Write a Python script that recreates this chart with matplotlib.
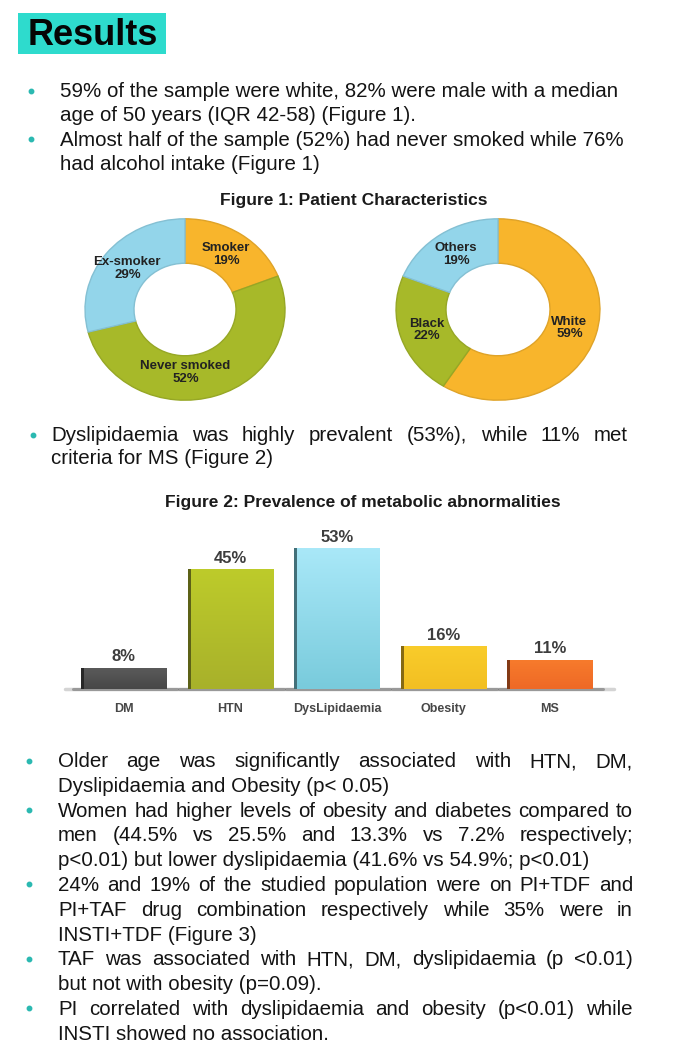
import matplotlib
matplotlib.use('Agg')
import matplotlib.pyplot as plt
import numpy as np
from matplotlib.patches import Rectangle
from matplotlib.lines import Line2D
from matplotlib.colors import to_rgb

# ---------------- data ----------------
smoke_labels = ["Smoker", "Never smoked", "Ex-smoker"]
smoke_values = [19, 52, 29]
race_labels = ["White", "Black", "Others"]
race_values = [59, 22, 19]

bar_categories = ["DM", "HTN", "DysLipidaemia", "Obesity", "MS"]
bar_values = [8, 45, 53, 16, 11]

title_text = "Results"
fig1_title = "Figure 1: Patient Characteristics"
fig2_title = "Figure 2: Prevalence of metabolic abnormalities"

top_bullets = [
    ["59% of the sample were white, 82% were male with a median",
     "age of 50 years (IQR 42-58) (Figure 1)."],
    ["Almost half of the sample (52%) had never smoked while 76%",
     "had alcohol intake (Figure 1)"],
]
mid_bullets = [
    ["Dyslipidaemia was highly prevalent (53%), while 11% met",
     "criteria for MS (Figure 2)"],
]
bottom_bullets = [
    ["Older age was significantly associated with HTN, DM,",
     "Dyslipidaemia and Obesity (p< 0.05)"],
    ["Women had higher levels of obesity and diabetes compared to",
     "men (44.5% vs 25.5% and 13.3% vs 7.2% respectively;",
     "p<0.01) but lower dyslipidaemia (41.6% vs 54.9%; p<0.01)"],
    ["24% and 19% of the studied population were on PI+TDF and",
     "PI+TAF drug combination respectively while 35% were in",
     "INSTI+TDF (Figure 3)"],
    ["TAF was associated with HTN, DM, dyslipidaemia (p <0.01)",
     "but not with obesity (p=0.09)."],
    ["PI correlated with dyslipidaemia and obesity (p<0.01) while",
     "INSTI showed no association."],
]

# ---------------- style ----------------
W, H = 694, 1058
plt.rcParams['font.family'] = ['Liberation Sans', 'DejaVu Sans']
TXT = '#141414'
TEAL = '#2bb9b1'
BOX = '#2edbcd'
ORANGE, GREEN, BLUE = '#f8b52c', '#a7b929', '#93d5ea'
smoke_colors = [ORANGE, GREEN, BLUE]
race_colors = [ORANGE, GREEN, BLUE]
bar_top = ['#5b5b5b', '#bdcb2b', '#a9e8f8', '#f9cc2b', '#f77b2c']
bar_bot = ['#474747', '#a8b12a', '#79cbdc', '#f2bf22', '#ee6926']
BODY = 14.8

fig = plt.figure(figsize=(W / 100, H / 100), dpi=100)
fig.patch.set_facecolor('white')
renderer = fig.canvas.get_renderer()


def fx(x):
    return x / W


def fy(y):
    return 1 - y / H


def darker(c, f=0.85):
    r, g, b = to_rgb(c)
    return (r * f, g * f, b * f)


def text_line(line, x0, x1, ybase, size, justify):
    if not justify:
        fig.text(fx(x0), fy(ybase), line, fontsize=size, va='baseline',
                 ha='left', color=TXT)
        return
    words = line.split(' ')
    while True:
        objs = [fig.text(0, fy(ybase), w, fontsize=size, va='baseline',
                         ha='left', color=TXT) for w in words]
        widths = [o.get_window_extent(renderer).width for o in objs]
        gap = (x1 - x0 - sum(widths)) / max(len(words) - 1, 1)
        if gap >= 3 or size < 10:
            break
        for o in objs:
            o.remove()
        size -= 0.25
    x = x0
    for o, w in zip(objs, widths):
        o.set_x(fx(x))
        x += w + gap


def bullets(paras, bx, x0, x1, y_first, step, size, justify, bullet_dy):
    y = y_first
    for para in paras:
        fig.add_artist(Line2D([fx(bx)], [fy(y - bullet_dy)], marker='o',
                              ms=3.2, color=TEAL, mec=TEAL,
                              transform=fig.transFigure))
        for i, line in enumerate(para):
            last = i == len(para) - 1
            text_line(line, x0, x1, y, size, justify and not last)
            y += step


# ---------------- header ----------------
fig.patches.append(Rectangle((fx(18), fy(54)), (166 - 18) / W, (54 - 13) / H,
                             transform=fig.transFigure, facecolor=BOX,
                             edgecolor='none'))
fig.text(fx(28), fy(45), title_text, fontsize=26, fontweight='bold',
         color='#050505', va='baseline', ha='left')

bullets(top_bullets, 31, 60, 625, 97, 24.4, BODY, False, 6.5)

# ---------------- figure 1: donuts ----------------
fig.text(fx(354), fy(205), fig1_title, fontsize=12.5, fontweight='bold',
         color='#1a1a1a', ha='center', va='baseline')

label_nudge = {"Never smoked": -0.22}


def donut(box, values, labels, colors):
    x0, y0, x1, y1 = box
    ax = fig.add_axes([fx(x0), fy(y1), (x1 - x0) / W, (y1 - y0) / H])
    wedges, _ = ax.pie(values, colors=colors, startangle=90,
                       counterclock=False, radius=1.0,
                       wedgeprops=dict(width=0.49, linewidth=1.0))
    for w, c in zip(wedges, colors):
        w.set_edgecolor(darker(c, 0.9))
    ax.set_aspect('auto')
    ax.set_xlim(-1.02, 1.02)
    ax.set_ylim(-1.02, 1.02)
    ax.axis('off')
    total = float(sum(values))
    for w, lab, v in zip(wedges, labels, values):
        ang = np.deg2rad((w.theta1 + w.theta2) / 2)
        r = 0.73
        x = r * np.cos(ang) + label_nudge.get(lab, 0)
        y = r * np.sin(ang)
        ax.text(x, y, f"{lab}\n{v / total * 100:.0f}%", ha='center',
                va='center', fontsize=9.5, fontweight='bold', color='#222222',
                linespacing=1.1)


donut((83, 217, 287, 402), smoke_values, smoke_labels, smoke_colors)
donut((394, 217, 602, 402), race_values, race_labels, race_colors)

# ---------------- middle bullet ----------------
bullets(mid_bullets, 33, 51, 628, 441, 22.5, BODY, True, 6.5)

# ---------------- figure 2: bars ----------------
fig.text(fx(363), fy(507), fig2_title, fontsize=12.5, fontweight='bold',
         color='#1a1a1a', ha='center', va='baseline')

step = 106.5
left = 124 - 0.5 * step
right = left + 5 * step
base_y = 689
ppu = 2.66
top_y = base_y - 60 * ppu
axb = fig.add_axes([fx(left), fy(base_y), (right - left) / W,
                    (base_y - top_y) / H])
x = np.arange(len(bar_categories))
bars = axb.bar(x, bar_values, width=0.8, color='none', edgecolor='none',
               zorder=3)
# floor shadow
axb.plot([-0.55, 4.6], [0, 0], color='#d4d4d4', lw=2.5, zorder=1,
         solid_capstyle='round', clip_on=False)
for b, ct, cb in zip(bars, bar_top, bar_bot):
    bx, bw, bh = b.get_x(), b.get_width(), b.get_height()
    axb.plot([bx - 0.08, bx + bw + 0.1], [0, 0], color='#6a6a6a', lw=2.2,
             alpha=0.55, zorder=2, solid_capstyle='round', clip_on=False)
    n = 64
    t = np.linspace(0, 1, n)[:, None]
    c1, c2 = np.array(to_rgb(ct)), np.array(to_rgb(cb))
    grad = (c1[None, :] * (1 - t) + c2[None, :] * t)[:, None, :]
    im = axb.imshow(grad, extent=[bx, bx + bw, 0, bh], aspect='auto',
                    zorder=3, interpolation='bilinear')
    im.set_clip_path(b)
    axb.add_patch(Rectangle((bx, 0), 0.025, bh, facecolor=darker(cb, 0.55),
                            edgecolor='none', zorder=4))
    axb.annotate(f"{b.get_height():.0f}%", (bx + bw / 2, bh),
                 xytext=(0, 2.5), textcoords='offset points', ha='center',
                 va='bottom', fontsize=12, fontweight='bold', color='#3d3d3d')
axb.set_xlim(-0.5, 4.5)
axb.set_ylim(0, 60)
axb.set_xticks(x)
axb.set_xticklabels(bar_categories, fontsize=9, fontweight='bold',
                    color='#474747')
axb.tick_params(axis='x', length=0, pad=10)
axb.set_yticks([])
for s in axb.spines.values():
    s.set_visible(False)
axb.patch.set_alpha(0)

# ---------------- bottom bullets ----------------
bullets(bottom_bullets, 29, 58, 633, 767, 24.8, BODY, True, 6.5)

fig.savefig('out.png', dpi=100, facecolor='white')
